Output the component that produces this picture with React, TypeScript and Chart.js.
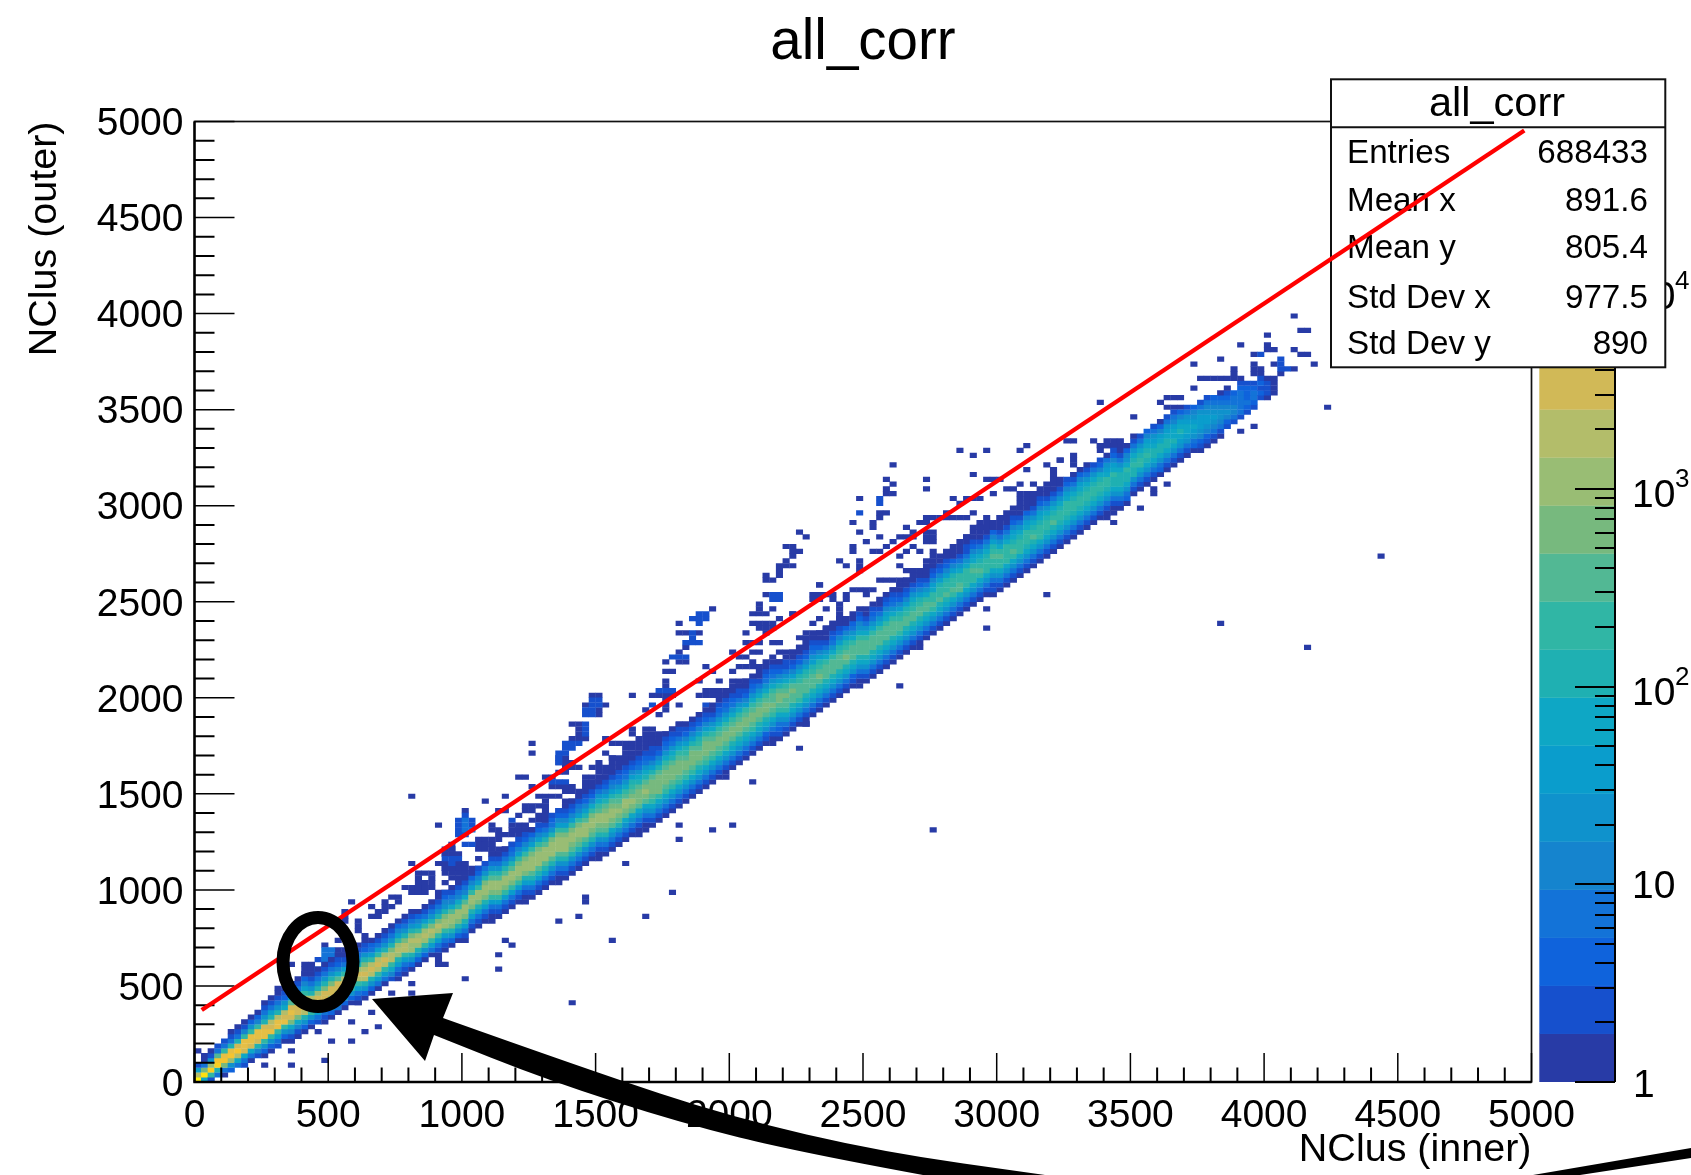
import React, { useEffect, useRef } from "react";
import { Chart, registerables } from "chart.js";

Chart.register(...registerables);

const FONT = "'Liberation Sans', Arial, sans-serif";

const chartTitle = "all_corr";
const xTitle = "NClus (inner)";
const yTitle = "NClus (outer)";
const binWidth = 25;
const axisMax = 5000;
const majorStep = 500;
const minorStep = 100;
const zMax = 72100;
const zLevelsCount = 20;

const statsLabels = ["Entries", "Mean x", "Mean y", "Std Dev x", "Std Dev y"];
const statsValues = ["688433", "891.6", "805.4", "977.5", "890"];

const redLineX = [27, 4973];
const redLineY = [375, 4953];

const palette = [
  "#283ba6", "#1650cd", "#0f63dc", "#1373d8", "#1584ce",
  "#0f92cc", "#0a9dcc", "#0ea7c5", "#1fb0b2", "#30b6a5",
  "#52b894", "#77b97e", "#99bd74", "#b3bd6a", "#d1b957",
  "#e6bf45", "#f5c42f", "#fbcf1f", "#fde010", "#fff00a",
];

// Each column is "first y bin:levels from bottom to top"; a level is a base-36 colour index.
const coreColumns = [
  "0:jd61", "0:7ib30", "0:19hc510", "1:38hga31", "1:03bgf931",
  "2:25cgf8310", "3:37dge8310", "3:137eff9410", "4:037eff9520", "5:148eff9420",
  "5:0259ffe85310", "6:0259fed86310", "7:1369ffd85310", "8:0259fed75210", "8:0147befea6420",
  "9:0147beed96310", "10:0258defd96420", "11:0259eed85310", "12:1369eec85310", "12:01369eeb85310",
  "13:0258ceeb85310", "14:0369deea74210", "15:0258ded96310", "16:0259ded96310", "16:01369dec85310",
  "17:0258dedb85210", "18:0258ded96320", "19:0369ded96310", "20:0369dec85310", "21:1479ddb85310",
  "21:01368cdc96420", "22:01369ddb85310", "23:0258ccdb85310", "24:0258cdc96420", "25:0259cdc96310",
  "26:0369cdb85310", "26:01369cdb85310", "27:01369ccb85421", "28:0258bcca74310", "29:0258bcc974310",
  "29:01368bcca74310", "31:01368bcc96420", "32:01368bcc96421", "33:01368bccb8531", "33:001369bcca85310",
  "34:01369bcca85310", "35:01369bcca85310", "36:01369bcca85321", "37:01369bccb96421", "37:001368bccb96421",
  "38:01368acccb96420", "39:01368acccb96421", "40:01368accca85310", "41:01358acccb85321", "41:001358acccb96421",
  "42:01358acccb964210", "43:01358abccb964210", "44:01358abccb964310", "45:01358accca864210", "46:01358abccb974210",
  "46:001358abcca975310", "47:01358abccba864210", "48:01357abccba864310", "49:01358abcba9753210", "50:01357abcca9753210",
  "51:01357abcba9864210", "52:01357abbba8753210", "52:001357abcba8753210", "53:013579abbba8642110", "54:013579bbbba864210",
  "55:013579abbba9753210", "56:013579abbba8753210", "57:013579abbba9753110", "58:013579abba9864210", "59:013579abbba864210",
  "60:013578abba9864210", "61:013579abbba864210", "62:013579abba9753100", "63:013579abba9753210", "64:013579abba9753210",
  "65:013578abba9753210", "66:013578abba9753110", "67:013578abba9642100", "68:013579abba9753210", "69:013578abba9753100",
  "70:012578abba9753210", "70:0013579abaa9753210", "71:0123579abba864210", "72:013579aaba9753110", "73:013578aaba8642100",
  "74:013579aaa98642100", "75:013578aaa98642100", "76:013578aaa98653210", "77:013578aba98642100", "78:013578aaa97531000",
  "79:013578aaa97532100", "80:013578aaa98642100", "81:013578aba9864200", "82:012578aaa9753200", "82:0013578aaa9754210",
  "83:013578aaa9753100", "84:013578aaa9753210", "85:013578aaa9753100", "86:013578aaa9764210", "87:013578aaa9753210",
  "88:013579aa98642100", "89:013578aa98642100", "90:013578aa98753100", "91:013578aa98642100", "92:013578aa97531000",
  "93:013579a997642100", "94:013578a998642100", "95:013578a998642100", "96:013579a998642000", "97:01357aa997531000",
  "98:0135799997531100", "99:0135799a97642100", "100:013579a987531000", "101:0135799987531000", "101:01135799a9864200",
  "102:0135799a97531000", "103:0135799997531000", "104:013579a987642100", "105:0135799987531000", "106:0135789997642000",
  "107:013578a987531000", "108:0135799987642100", "109:0135789987531000", "110:013578a987531000", "111:013578998753100",
  "112:01357899976421", "113:01357899875310", "114:01357899876420", "115:01357899875310", "116:0135789987531",
  "117:0135789987421", "118:0135789976530", "118:00135788976421", "119:0135788875310", "120:0235788975420",
  "122:0135889875310", "123:013579987531", "124:013578987642", "125:013578876531", "126:023578876420",
  "127:013578876531", "128:013578776431", "129:01356787642", "130:01356776531", "131:0235676542",
  "131:01245666531", "132:01245665431", "133:0134565432", "134:0134554320", "136:124543210",
  "137:1344332", "138:133333210", "139:1232221", "140:123321", "142:12121",
  "142:01110", "143:0000",
];

// Isolated cells, written as "x bin:y bin", where either side may be a range a-b.
const strayDark =
  "164:159 165-166:156 160:155 156:153 160:152-153 161:152 158:151 164:152 165-166:151 153:150 149:149 167:149 " +
  "158:147-149 159:147-148 161:149 162:147 164:148 155:147-148 169:140 150-155:146 149:144 145-147:142 144:141 " +
  "145-147:140 135:141 140:138 130-131:133 134:133 136-138:133 135-139:132 129:129 131:128-130 158:136 156:135 " +
  "137:116 145:124 141:119 143:122-123 136:117 " +
  "104:128 114:131 116:130 118:131 123:131 124:132 116:126 118-120:125 124:127 127:128 129:129 135-137:132 135:131 " +
  "128:125-127 125:124 123:124 121-122:123 119:122 124:122 123:121-122 113:121 115-117:121 114:120 116:118 112:118 " +
  "112-114:117 109-111:117 115:117 118:117 120-122:117 117:116 116-118:115 108-109:116 106:115 107:114 105-107:113 " +
  "109-110:112-114 115:113 104:112 103:111 107:111 106:110 108:110 110:109-110 105:109 112:109 105:107 106-108:106 " +
  "109:108 110:107 108:105 102-106:104 105:103 104:102 103:101 98-101:102 93:103 92-94:101 97:101 95:101 100:101 " +
  "95:100 97:100 94:98 96:98-99 99:121 102-103:118 102:117 98:116 101:115-116 99:114 102:113 100:112 98:110-111 " +
  "101-102:110 96:108 97:107 99:106-108 103:125 104:124 103:122-123 104:122 109:125 109:123 90:114 91:113 88-89:111 " +
  "89-90:110 89:109 88:108 87-89:107 87:105-106 85:104-105 85:101 84:98-99 83-85:97 86:98 89:97 87:96 83-86:95 " +
  "84-86:94 82:93 85:93 82-84:91 86-87:91 83:89 81-82:88 83:87 85:87 86:88 87:86-87 84:86 91-93:93 92:95 93:96 " +
  "94-96:94 96:96-97 95:95 90-92:92 91-93:91 87-89:89 90:90 127:101 118:98 118:94 105:82 108:90 91:74 " +
  "32:59 43:58 46:59 36:53 40:56 45-46:56 49-51:57 49-50:56 52:56 48:55 50-52:54 47-49:53 44:52-53 45:52 45-48:51 " +
  "42:50 42-43:48 51-54:59 52:57-58 54-56:56 55-57:57 57:58-59 55-57:60 48-49:63 50:61 50:70 50:68 " +
  "61:71 62:70 61:68 62:67 63-64:70 64-69:68 65-68:70 69:76 67:77 72:78 70:77-79 69-71:80 68:80 65:80 70:82-83 " +
  "70:85 71:85 70:87 72-73:87 72:89 73:90 73:93 75:93 72:93 72:95 77:98 76:86 77:85 75:80 75:83 78:83 76-78:81 " +
  "80-83:83 80:85 81-83:86 80:89 84:89 89:97 86:104 " +
  "93:103 92-93:100 72:53 77:52 80:53 66:51 72:50 62-63:50 62:49 64:45 71:39 58:38 90:69 91:74 83:62 79:63 " +
  "77:64-65 76:63 110:52 153:95 166:90 177:109 62:29 67:34 " +
  "59-60:80 58:78 61:78 60:76-77 56-57:74 57:72-73 56-58:71 " +
  "62-65:66 64-65:69 66:69 68:69 64:67 66-70:71 65:72 67-70:72 65:73 67-68:73 71-72:73 72-74:74 74:75 77:77 79:77 " +
  "76-80:80 79-82:81 80-84:82 " +
  "58:37 57:34 54:33 46:29 47:28 45:26 45:23 40:21 56:16 32:20 32:18 29:18 26:14 23:12 27:11 25:10 18:10 20:8 23:8 " +
  "14:6 19:4 14:3 10:3 24:16 36:25 36-37:24 0:6 1:5 12:19 23:37 22:33-35 24:31-33 25:30 26:36 26:34 27:34-35 28:35 " +
  "29-30:38 28:36-37 29:36 30:37 32:45 33-35:43 33:42 35:42 33-35:41 31-35:40 32-34:39 36:45 37-39:44 37:47 39:47 38:48 38:49 " +
  "43-45:50 44:49 46:48 42:46 44:46 48-50:52 49:50 19:28 21:29 21-22:26-27 16-17:22-24 14:24 " +
  "42-44:49 47-49:49 37-38:47-48 44-47:48 44-46:47 46-48:46 37-40:45 43-46:45 37-42:44 37-43:43 38-41:42 37:41 39-41:41 " +
  "33-34:40 36-39:39 51-52:55 54-56:55 54-56:53 47-51:52 50-52:51 55-56:58 53-56:61 58-60:61 58-61:62 52-53:63 58-62:63 " +
  "54-55:64 60-62:64 55-57:65 59-62:65 54-56:66 60:66 54-55:67 62-65:67";

const strayBlue =
  "159:151 162:150 163:148 162:148-149 102:120-121 99:118 86-87:100 86-87:101 " +
  "59-60:78-79 58-59:76-77 58:72-74 55-57:70 55-56:69 54-55:68 54:66-67 53-55:62 " +
  "71-73:88 73-75:91 74:92 74:93 74-76:96 75:95 75-76:97 69-71:81 68:78 76:78 " +
  "37-39:46 38:45 40-41:49 47:54 18-19:25 39:52-54 41:53-54 39-40:51 40:55";

const strayMid = "40:52-54 41:52 19-20:24-27 18:22-23";

type Cell = { x: number; y: [number, number]; level: number };

function addStrays(out: Cell[], tokens: string, level: number) {
  for (const token of tokens.split(" ")) {
    if (!token) continue;
    const [xPart, yPart] = token.split(":");
    const [x0, x1] = xPart.split("-").map(Number);
    const [y0, y1] = yPart.split("-").map(Number);
    for (let b = x0; b <= (x1 ?? x0); b++) {
      for (let r = y0; r <= (y1 ?? y0); r++) {
        out.push({ x: (b + 0.5) * binWidth, y: [r * binWidth, (r + 1) * binWidth], level });
      }
    }
  }
}

function buildCells(): Cell[] {
  const out: Cell[] = [];
  addStrays(out, strayDark, 0);
  addStrays(out, strayBlue, 1);
  addStrays(out, strayMid, 3);
  coreColumns.forEach((col, b) => {
    const [start, levels] = col.split(":");
    [...levels].forEach((ch, i) => {
      const r = Number(start) + i;
      out.push({ x: (b + 0.5) * binWidth, y: [r * binWidth, (r + 1) * binWidth], level: parseInt(ch, 36) });
    });
  });
  return out;
}

function smoothPath(ctx: any, pts: number[][]) {
  for (let i = 1; i < pts.length - 1; i++) {
    const mx = (pts[i][0] + pts[i + 1][0]) / 2;
    const my = (pts[i][1] + pts[i + 1][1]) / 2;
    ctx.quadraticCurveTo(pts[i][0], pts[i][1], mx, my);
  }
  const last = pts[pts.length - 1];
  ctx.lineTo(last[0], last[1]);
}

const rootFrame = {
  id: "rootFrame",
  beforeDatasetDraw(chart: any, args: any) {
    if (args.index !== 1) return;
    const { ctx, chartArea: a, scales } = chart;
    const { x, y, z } = scales;
    ctx.save();

    // colour bar
    const barLeft = 1539.3;
    const barRight = 1615;
    const decades = Math.log10(zMax);
    palette.forEach((c: string, k: number) => {
      const lo = z.getPixelForValue(Math.pow(10, (k * decades) / zLevelsCount));
      const hi = z.getPixelForValue(Math.pow(10, ((k + 1) * decades) / zLevelsCount));
      ctx.fillStyle = c;
      ctx.fillRect(barLeft, hi - 0.3, barRight - barLeft, lo - hi + 0.3);
    });
    ctx.strokeStyle = "#000";
    ctx.lineWidth = 2;
    ctx.beginPath();
    ctx.moveTo(barRight, a.top);
    ctx.lineTo(barRight, a.bottom);
    for (let d = 0; d <= 4; d++) {
      for (let m = 1; m <= 9; m++) {
        const v = m * Math.pow(10, d);
        if (v > zMax) continue;
        const p = Math.round(z.getPixelForValue(v));
        ctx.moveTo(barRight, p);
        ctx.lineTo(barRight - (m === 1 ? 40 : 20), p);
      }
    }
    ctx.stroke();

    // colour bar labels
    ctx.fillStyle = "#000";
    ctx.textAlign = "left";
    ctx.textBaseline = "alphabetic";
    for (let d = 0; d <= 4; d++) {
      const p = z.getPixelForValue(Math.pow(10, d));
      ctx.font = `39px ${FONT}`;
      if (d === 0) {
        ctx.fillText("1", 1633, p + 15);
      } else {
        ctx.fillText("10", 1632, p + (d === 1 ? 14 : 18));
        if (d > 1) {
          ctx.font = `26px ${FONT}`;
          ctx.fillText(String(d), 1675, p - 2);
        }
      }
    }

    // frame of the plot
    ctx.strokeStyle = "#111";
    ctx.lineWidth = 1.7;
    ctx.strokeRect(a.left, a.top, a.right - a.left, a.bottom - a.top);
    ctx.strokeStyle = "#000";
    ctx.lineWidth = 2.4;
    ctx.beginPath();
    ctx.moveTo(a.left, a.top);
    ctx.lineTo(a.left, a.bottom);
    ctx.lineTo(a.right, a.bottom);
    ctx.stroke();

    // inward ticks
    for (let v = 0; v <= axisMax; v += minorStep) {
      const major = v % majorStep === 0;
      ctx.lineWidth = major ? 1.5 : 2;
      const px = x.getPixelForValue(v);
      const py = y.getPixelForValue(v);
      ctx.beginPath();
      ctx.moveTo(px, a.bottom);
      ctx.lineTo(px, a.bottom - (major ? 29 : 14.5));
      ctx.moveTo(a.left, py);
      ctx.lineTo(a.left + (major ? 40 : 20), py);
      ctx.stroke();
    }

    // stats box
    const L = 1331;
    const R = 1665.3;
    const T = 79.3;
    const B = 367.3;
    const H = 127.3;
    ctx.fillStyle = "#fff";
    ctx.fillRect(L, T, R - L, B - T);
    ctx.strokeStyle = "#111";
    ctx.lineWidth = 2;
    ctx.strokeRect(L, T, R - L, B - T);
    ctx.beginPath();
    ctx.moveTo(L, H);
    ctx.lineTo(R, H);
    ctx.stroke();
    ctx.fillStyle = "#000";
    ctx.font = `41.5px ${FONT}`;
    ctx.textAlign = "center";
    ctx.fillText(chartTitle, 1497, 116);
    ctx.font = `33.2px ${FONT}`;
    const baselines = [163, 211, 258, 308, 354];
    statsLabels.forEach((t, i) => {
      ctx.textAlign = "left";
      ctx.fillText(t, 1347, baselines[i]);
      ctx.textAlign = "right";
      ctx.fillText(statsValues[i], 1648, baselines[i]);
    });
    ctx.restore();
  },
  afterDraw(chart: any) {
    // hand-drawn black ring and arrow laid over the figure
    const { ctx } = chart;
    ctx.save();
    ctx.strokeStyle = "#000";
    ctx.fillStyle = "#000";
    ctx.lineWidth = 13;
    ctx.beginPath();
    ctx.ellipse(318, 962, 35, 44.6, 0, 0, Math.PI * 2);
    ctx.stroke();

    ctx.beginPath();
    ctx.moveTo(372, 999);
    ctx.lineTo(453, 993);
    ctx.lineTo(443, 1018);
    smoothPath(ctx, [[443, 1018], [589, 1070], [731, 1117], [882, 1152], [1045, 1175]]);
    ctx.lineTo(923, 1175);
    smoothPath(ctx, [[923, 1175], [798, 1152], [681, 1123], [547, 1080], [434, 1035]]);
    ctx.lineTo(425, 1061);
    ctx.closePath();
    ctx.fill();

    ctx.beginPath();
    ctx.moveTo(1533, 1175);
    ctx.lineTo(1691, 1148);
    ctx.lineTo(1691, 1158);
    ctx.lineTo(1580, 1175);
    ctx.closePath();
    ctx.fill();
    ctx.restore();
  },
};

export default function App() {
  const ref = useRef<HTMLCanvasElement | null>(null);

  useEffect(() => {
    const canvas = ref.current;
    if (!canvas) return;
    const cells = buildCells();
    const tickFont = { family: FONT, size: 39, lineHeight: 1.2 };
    const chart = new Chart(canvas, {
      type: "bar",
      data: {
        datasets: [
          {
            type: "bar",
            label: "all_corr",
            data: cells.map((c) => ({ x: c.x, y: c.y })),
            backgroundColor: cells.map((c) => palette[c.level]),
            barThickness: 6.69,
            grouped: false,
            borderWidth: 0,
            inflateAmount: 0.2,
            order: 2,
          },
          {
            type: "line",
            label: "fit",
            data: redLineX.map((x, i) => ({ x, y: redLineY[i] })),
            borderColor: "#ff0000",
            borderWidth: 4.4,
            pointRadius: 0,
            order: 1,
          },
        ] as any,
      },
      options: {
        responsive: false,
        animation: false,
        devicePixelRatio: 1,
        layout: { padding: 0 },
        plugins: {
          legend: { display: false },
          tooltip: { enabled: false },
          title: {
            display: true,
            text: chartTitle,
            fullSize: false,
            color: "#000",
            font: { family: FONT, size: 56.5, weight: "normal", lineHeight: 1 },
            padding: { top: 15, bottom: 50 },
          },
        },
        scales: {
          x: {
            type: "linear",
            min: 0,
            max: axisMax,
            offset: false,
            grid: { display: false, drawTicks: false },
            border: { display: false },
            ticks: {
              stepSize: majorStep,
              autoSkip: false,
              maxRotation: 0,
              padding: 11,
              color: "#000",
              font: tickFont,
              callback: (v: any) => String(v),
            },
            title: {
              display: true,
              text: xTitle,
              align: "end",
              color: "#000",
              font: { family: FONT, size: 39.5, lineHeight: 1 },
              padding: { top: 0, bottom: 5 },
            },
            afterFit: (s: any) => {
              s.height = 93;
            },
          },
          y: {
            type: "linear",
            min: 0,
            max: axisMax,
            grid: { display: false, drawTicks: false },
            border: { display: false },
            ticks: {
              stepSize: majorStep,
              autoSkip: false,
              padding: 11,
              labelOffset: 3,
              color: "#000",
              font: tickFont,
              callback: (v: any) => String(v),
            },
            title: {
              display: true,
              text: yTitle,
              align: "end",
              color: "#000",
              font: { family: FONT, size: 39.5, lineHeight: 1 },
              padding: { top: 25, bottom: 0 },
            },
            afterFit: (s: any) => {
              s.width = 194.5;
            },
          },
          z: {
            type: "logarithmic",
            position: "right",
            min: 1,
            max: zMax,
            grid: { display: false, drawTicks: false },
            border: { display: false },
            ticks: { display: false },
            afterFit: (s: any) => {
              s.width = 159.5;
            },
          },
        },
      } as any,
      plugins: [rootFrame],
    });
    return () => chart.destroy();
  }, []);

  return (
    <canvas
      ref={ref}
      width={1691}
      height={1175}
      style={{ position: "absolute", left: 0, top: 0, width: 1691, height: 1175, background: "#fff" }}
    />
  );
}
